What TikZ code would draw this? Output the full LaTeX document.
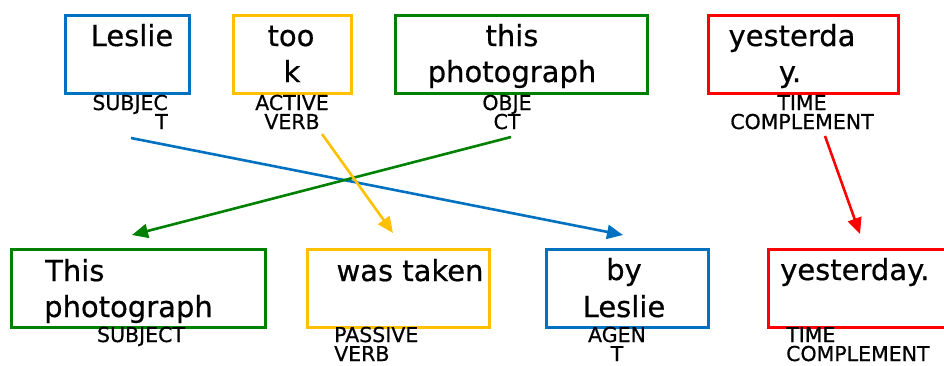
\documentclass[tikz,border=0pt]{standalone}
\usepackage{fontspec}
\setmainfont{DejaVu Sans}[FakeBold=0.6]
\usetikzlibrary{arrows.meta}
\definecolor{cblue}{RGB}{0,112,192}
\definecolor{cgold}{RGB}{255,192,0}
\definecolor{cgreen}{RGB}{0,128,0}
\definecolor{cred}{RGB}{255,0,0}

\begin{document}
\begin{tikzpicture}[x=1pt,y=-1pt,
  wordbox/.style={draw=#1, line width=2.6pt, inner sep=0pt, anchor=north west,
                  minimum height=78pt},
  word/.style={font=\fontsize{29}{35}\selectfont, inner sep=0pt, anchor=base},
  role/.style={font=\fontsize{20.5}{20}\selectfont, inner sep=0pt, anchor=base},
  link/.style={draw=#1, line width=2.6pt, -{Triangle[length=16pt,width=14pt]}}]

\useasboundingbox (0,0) rectangle (944,365);

% active sentence, top row
\node[wordbox=cblue,  minimum width=124pt] (actSubj) at (64,14)  {};
\node[wordbox=cgold,  minimum width=118pt] (actVerb) at (232,14) {};
\node[wordbox=cgreen, minimum width=252pt] (actObj)  at (394,14) {};
\node[wordbox=cred,   minimum width=190pt] (actTime) at (707,14) {};

\node[word] (w1)  at (132,46) {Leslie};
\node[word] (w2a) at (291,46) {too};
\node[word] (w2b) at (292,82) {k};
\node[word] (w3a) at (512,46) {this};
\node[word] (w3b) at (512,82) {photograph};
\node[word] (w4a) at (792,46) {yesterda};
\node[word] (w4b) at (790,82) {y.};

\node[role, anchor=base east] (r1a) at (168,110) {SUBJEC};
\node[role, anchor=base east] (r1b) at (168,129) {T};
\node[role] (r2a) at (292,110) {ACTIVE};
\node[role] (r2b) at (292,129) {VERB};
\node[role] (r3a) at (507,110) {OBJE};
\node[role] (r3b) at (507,129) {CT};
\node[role] (r4a) at (802,110) {TIME};
\node[role] (r4b) at (802,129) {COMPLEMENT};

% passive sentence, bottom row
\node[wordbox=cgreen, minimum width=254pt] (pasSubj)  at (10,248)  {};
\node[wordbox=cgold,  minimum width=182pt] (pasVerb)  at (306,248) {};
\node[wordbox=cblue,  minimum width=162pt] (pasAgent) at (545,248) {};
\node[wordbox=cred,   minimum width=200pt] (pasTime)  at (767,248) {};

\node[word, anchor=base west] (v1a) at (45,281) {This};
\node[word, anchor=base west] (v1b) at (44,317) {photograph};
\node[word] (v2)  at (410,281) {was taken};
\node[word] (v3a) at (624,280) {by};
\node[word] (v3b) at (624,317) {Leslie};
\node[word, anchor=base west] (v4) at (780,280) {yesterday.};

\node[role] (q1) at (141,342) {SUBJECT};
\node[role, anchor=base west] (q2a) at (334,342) {PASSIVE};
\node[role, anchor=base west] (q2b) at (334,361) {VERB};
\node[role] (q3a) at (617,342) {AGEN};
\node[role] (q3b) at (617,361) {T};
\node[role, anchor=base west] (q4a) at (786,342) {TIME};
\node[role, anchor=base west] (q4b) at (786,361) {COMPLEMENT};

% where each constituent moves
\coordinate (fromSubj) at (131,138);
\coordinate (toAgent)  at (623,235);
\coordinate (fromObj)  at (511,137);
\coordinate (toSubj)   at (132,235);
\coordinate (fromVerb) at (322,134);
\coordinate (toVerb)   at (393,233);
\coordinate (fromTime) at (825,136);
\coordinate (toTime)   at (860,234);

\draw[link=cblue]  (fromSubj) -- (toAgent);
\draw[link=cgreen] (fromObj)  -- (toSubj);
\draw[link=cgold]  (fromVerb) -- (toVerb);
\draw[link=cred]   (fromTime) -- (toTime);
\end{tikzpicture}
\end{document}
